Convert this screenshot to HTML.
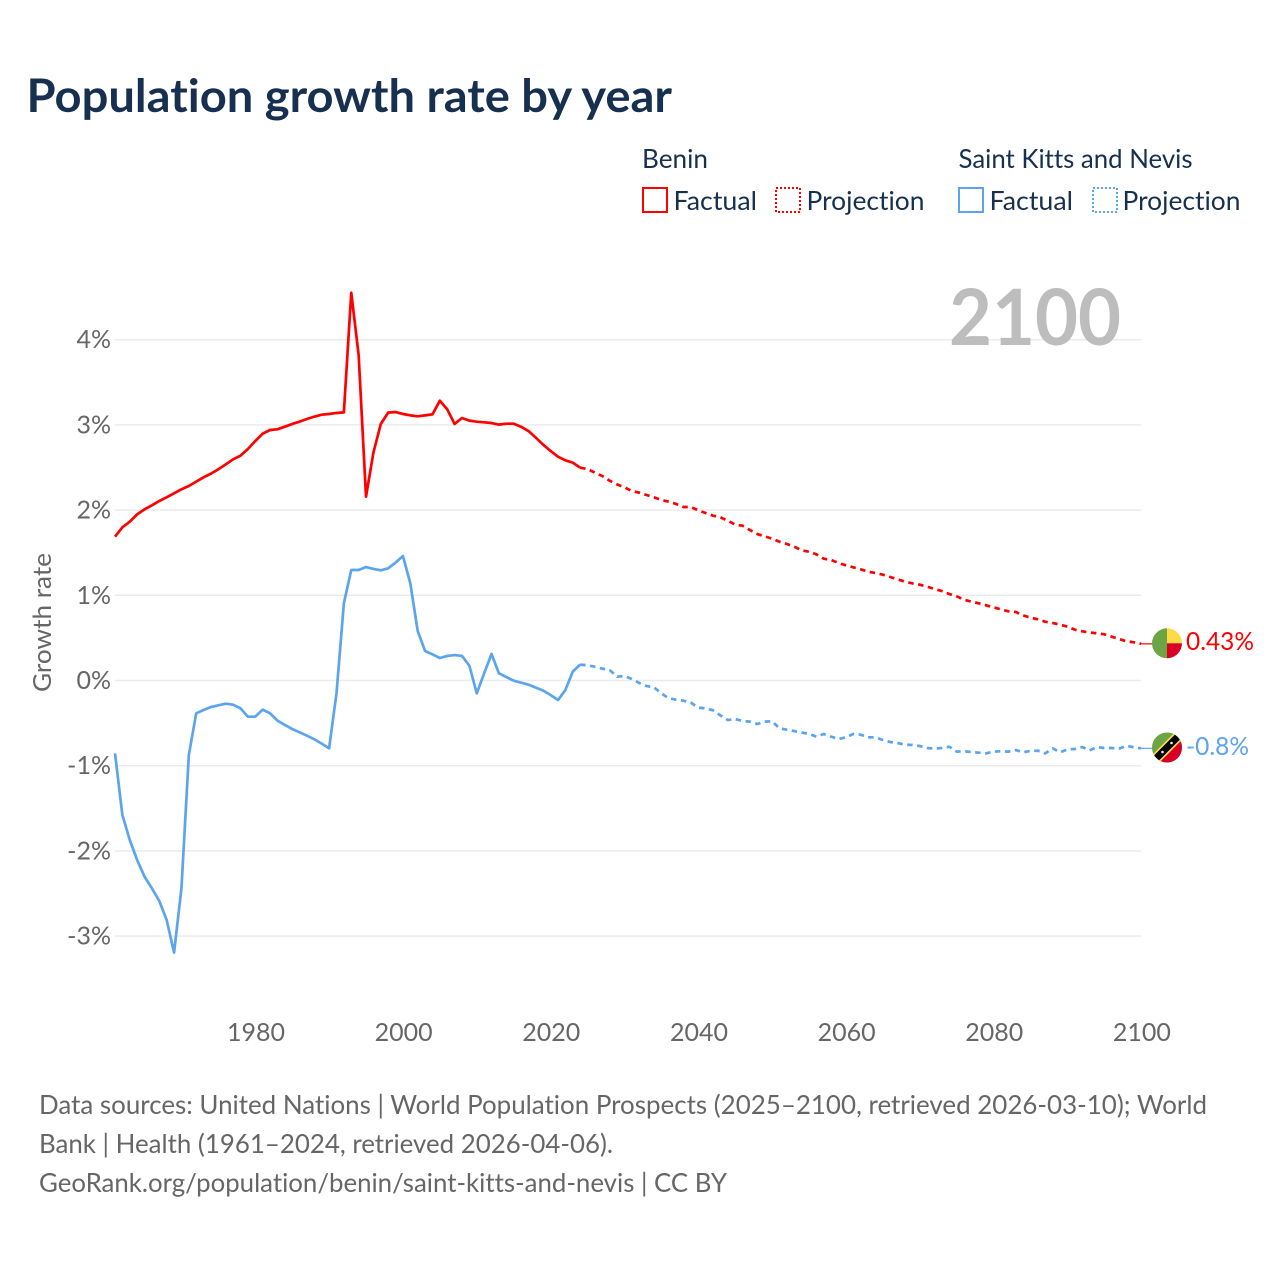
<!DOCTYPE html>
<html lang="en">
<head>
<meta charset="utf-8">
<title>Population growth rate by year</title>
<style>
html,body{margin:0;padding:0;background:#fff;}
svg{display:block;}
text{font-family:"Lato","Carlito","Liberation Sans",sans-serif;font-variant-ligatures:none;font-feature-settings:"liga" 0,"clig" 0,"dlig" 0;}
</style>
</head>
<body>
<svg id="chart" xmlns="http://www.w3.org/2000/svg" width="1280" height="1280" viewBox="0 0 1280 1280">
  <rect x="0" y="0" width="1280" height="1280" fill="#ffffff"/>
  <text x="26.5" y="112" font-size="46" font-weight="700" fill="#17304f" textLength="645.5" lengthAdjust="spacingAndGlyphs">Population growth rate by year</text>

  <g font-size="26" fill="#17304f">
    <text x="642" y="168" textLength="66" lengthAdjust="spacingAndGlyphs">Benin</text>
    <rect x="643" y="188" width="24" height="24" fill="none" stroke="#ff0000" stroke-width="2"/>
    <text x="673.5" y="210" textLength="83.5" lengthAdjust="spacingAndGlyphs">Factual</text>
    <rect x="776" y="188" width="24" height="24" fill="none" stroke="#ff0000" stroke-width="2" stroke-dasharray="2 2"/>
    <text x="806.5" y="210" textLength="118" lengthAdjust="spacingAndGlyphs">Projection</text>
    <text x="958.5" y="168" textLength="234" lengthAdjust="spacingAndGlyphs">Saint Kitts and Nevis</text>
    <rect x="959" y="188" width="24" height="24" fill="none" stroke="#5ba4ee" stroke-width="2"/>
    <text x="989.5" y="210" textLength="83.5" lengthAdjust="spacingAndGlyphs">Factual</text>
    <rect x="1093" y="188" width="24" height="24" fill="none" stroke="#5ba4ee" stroke-width="2" stroke-dasharray="2 2"/>
    <text x="1122.5" y="210" textLength="118" lengthAdjust="spacingAndGlyphs">Projection</text>
  </g>

  <g id="grid"></g>
  <text x="949" y="345" font-size="78" font-weight="700" fill="#bdbdbd" textLength="172" lengthAdjust="spacingAndGlyphs">2100</text>
  <g id="yticks" font-size="25" fill="#666666" text-anchor="end"></g>
  <g id="xticks" font-size="25" fill="#666666" text-anchor="middle"></g>
  <text transform="translate(51,692) rotate(-90)" font-size="25" fill="#666666" textLength="139" lengthAdjust="spacingAndGlyphs">Growth rate</text>
  <g id="series"></g>

  <defs>
    <clipPath id="flag-clip-benin"><circle cx="1167" cy="643.3" r="15"/></clipPath>
    <clipPath id="flag-clip-kitts"><circle cx="1167" cy="747.5" r="15"/></clipPath>
  </defs>
  <g clip-path="url(#flag-clip-benin)">
    <rect x="1152" y="628" width="15" height="31" fill="#6da544"/>
    <rect x="1167" y="628" width="15" height="15.3" fill="#ffda44"/>
    <rect x="1167" y="643.3" width="15" height="16" fill="#d80027"/>
  </g>
  <g clip-path="url(#flag-clip-kitts)">
    <rect x="1152" y="732" width="31" height="31" fill="#6da544"/>
    <polygon points="1183,733 1183,763 1153,763" fill="#d80027"/>
    <line x1="1153" y1="761.5" x2="1181" y2="733.5" stroke="#ffda44" stroke-width="10.5"/>
    <line x1="1153" y1="761.5" x2="1181" y2="733.5" stroke="#000000" stroke-width="7"/>
    <circle cx="1162.5" cy="752" r="1.3" fill="#f0f0f0"/>
    <circle cx="1171.5" cy="743" r="1.3" fill="#f0f0f0"/>
  </g>
  <text x="1186" y="650" font-size="25" fill="#ff0000" textLength="68" lengthAdjust="spacingAndGlyphs">0.43%</text>
  <text x="1186" y="755" font-size="25" fill="#5ba4ee" textLength="63" lengthAdjust="spacingAndGlyphs">-0.8%</text>

  <g font-size="26" fill="#666666">
    <text x="39" y="1114" textLength="1168" lengthAdjust="spacingAndGlyphs">Data sources: United Nations | World Population Prospects (2025–2100, retrieved 2026-03-10); World</text>
    <text x="39" y="1153" textLength="574" lengthAdjust="spacingAndGlyphs">Bank | Health (1961–2024, retrieved 2026-04-06).</text>
    <text x="39" y="1192" textLength="688" lengthAdjust="spacingAndGlyphs">GeoRank.org/population/benin/saint-kitts-and-nevis | CC BY</text>
  </g>
</svg>
<script>
const yTicks = [4, 3, 2, 1, 0, -1, -2, -3];
const xTicks = [1980, 2000, 2020, 2040, 2060, 2080, 2100];
const factualStartYear = 1961;
const projectionStartYear = 2025;

const beninFactual = [
  1.688,1.798,1.864,1.950,2.009,2.056,2.107,2.150,2.197,2.244,
  2.283,2.334,2.385,2.428,2.479,2.537,2.596,2.639,2.717,2.811,
  2.897,2.940,2.948,2.979,3.011,3.038,3.069,3.097,3.120,3.128,
  3.140,3.147,4.552,3.820,2.158,2.674,3.011,3.144,3.151,
  3.128,3.112,3.101,3.112,3.124,3.284,3.183,3.011,3.081,3.050,
  3.038,3.030,3.022,3.003,3.014,3.014,2.979,2.928,2.850,2.768,
  2.694,2.627,2.584,2.557,2.498
];
const beninProjection = [
  2.482,2.439,2.400,2.345,2.302,2.267,2.224,2.205,2.177,2.150,
  2.119,2.099,2.072,2.036,2.036,1.997,1.966,1.935,1.915,1.876,
  1.829,1.817,1.766,1.719,1.692,1.665,1.629,1.602,1.571,1.528,
  1.512,1.481,1.430,1.414,1.379,1.352,1.328,1.305,1.277,
  1.262,1.242,1.215,1.187,1.160,1.140,1.125,1.101,1.074,1.050,
  1.015,0.988,0.949,0.925,0.906,0.882,0.859,0.835,0.812,0.804,
  0.765,0.737,0.718,0.690,0.675,0.655,0.632,0.597,0.577,0.565,
  0.554,0.542,0.514,0.487,0.460,0.448,0.430
];
const kittsFactual = [
  -0.855,-1.579,-1.872,-2.107,-2.302,-2.439,-2.588,-2.811,-3.194,-2.439,
  -0.874,-0.385,-0.346,-0.311,-0.291,-0.272,-0.284,-0.327,-0.425,-0.425,
  -0.342,-0.385,-0.471,-0.522,-0.569,-0.608,-0.648,-0.690,-0.741,-0.796,
  -0.151,0.906,1.297,1.297,1.332,1.309,1.293,1.317,1.383,1.461,
  1.140,0.581,0.346,0.307,0.264,0.288,0.299,0.288,0.174,-0.151,
  0.084,0.311,0.084,0.041,-0.002,-0.025,-0.049,-0.084,-0.119,-0.170,
  -0.229,-0.112,0.104,0.186
];
const kittsProjection = [
  0.178,0.162,0.139,0.123,0.045,0.053,0.018,-0.029,-0.065,-0.080,
  -0.151,-0.209,-0.225,-0.237,-0.260,-0.319,-0.327,-0.350,-0.409,-0.464,
  -0.452,-0.475,-0.483,-0.511,-0.483,-0.479,-0.561,-0.577,-0.593,-0.612,
  -0.624,-0.659,-0.628,-0.659,-0.687,-0.667,-0.628,-0.636,-0.667,
  -0.667,-0.698,-0.722,-0.734,-0.753,-0.757,-0.769,-0.792,-0.800,-0.792,
  -0.777,-0.835,-0.831,-0.839,-0.847,-0.855,-0.835,-0.831,-0.835,-0.816,
  -0.843,-0.827,-0.824,-0.855,-0.796,-0.843,-0.808,-0.804,-0.781,-0.820,
  -0.781,-0.792,-0.792,-0.800,-0.765,-0.784,-0.796
];

const NS = 'http://www.w3.org/2000/svg';
const xAxis = year => 115.0 + (year - factualStartYear) * 7.383;
const yAxis = value => 680.5 - value * 85.2;

function pathFrom(startYear, values, prefix) {
  const parts = prefix ? [prefix] : [];
  values.forEach((v, i) => {
    parts.push(xAxis(startYear + i).toFixed(2) + ',' + yAxis(v).toFixed(2));
  });
  return 'M' + parts.join('L');
}

const gridGroup = document.getElementById('grid');
const yTickGroup = document.getElementById('yticks');
yTicks.forEach(t => {
  const line = document.createElementNS(NS, 'line');
  
  
  line.setAttribute('x1', 115);
  line.setAttribute('x2', 1141);
  line.setAttribute('y1', yAxis(t));
  line.setAttribute('y2', yAxis(t));
  line.setAttribute('stroke', '#ebebeb');
  line.setAttribute('stroke-width', '1.5');
  gridGroup.appendChild(line);

  const label = document.createElementNS(NS, 'text');
  
  
  label.setAttribute('x', 111);
  label.setAttribute('y', yAxis(t) + 8.5);
  label.textContent = t + '%';
  yTickGroup.appendChild(label);
});

const xTickGroup = document.getElementById('xticks');
xTicks.forEach(t => {
  const label = document.createElementNS(NS, 'text');
  
  
  label.setAttribute('x', xAxis(t) + 0.7);
  label.setAttribute('y', 1041);
  label.textContent = t;
  xTickGroup.appendChild(label);
});

const seriesGroup = document.getElementById('series');
function addPath(d, color, dashed) {
  const p = document.createElementNS(NS, 'path');
  p.setAttribute('d', d);
  p.setAttribute('fill', 'none');
  p.setAttribute('stroke', color);
  p.setAttribute('stroke-width', '2.7');
  p.setAttribute('stroke-linejoin', 'round');
  if (dashed) p.setAttribute('stroke-dasharray', '5.5 4.5');
  seriesGroup.appendChild(p);
  return p;
}
function addConnector(value, color) {
  const c = document.createElementNS(NS, 'line');
  c.setAttribute('x1', xAxis(2100));
  c.setAttribute('x2', 1153);
  c.setAttribute('y1', yAxis(value));
  c.setAttribute('y2', yAxis(value));
  c.setAttribute('stroke', color);
  c.setAttribute('stroke-width', '1.2');
  seriesGroup.appendChild(c);
  return c;
}

const beninLast = beninFactual[beninFactual.length - 1];
const kittsLast = kittsFactual[kittsFactual.length - 1];
const joinBenin = xAxis(projectionStartYear - 1).toFixed(2) + ',' + yAxis(beninLast).toFixed(2);
const joinKitts = xAxis(projectionStartYear - 1).toFixed(2) + ',' + yAxis(kittsLast).toFixed(2);

const lineBeninFactual = addPath(pathFrom(factualStartYear, beninFactual), '#ff0000', false);


const lineBeninProjection = addPath(pathFrom(projectionStartYear, beninProjection, joinBenin), '#ff0000', true);


const connectorBenin = addConnector(beninProjection[beninProjection.length - 1], '#ff0000');



const lineKittsFactual = addPath(pathFrom(factualStartYear, kittsFactual), '#5ba4ee', false);


const lineKittsProjection = addPath(pathFrom(projectionStartYear, kittsProjection, joinKitts), '#5ba4ee', true);


const connectorKitts = addConnector(kittsProjection[kittsProjection.length - 1], '#5ba4ee');


</script>
</body>
</html>
